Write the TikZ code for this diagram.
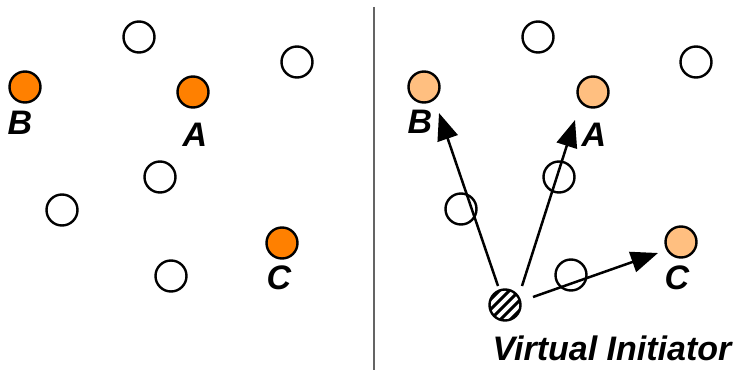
\documentclass[tikz,border=0pt]{standalone}
\usepackage{fontspec}
\setmainfont{Liberation Sans}
\usetikzlibrary{arrows.meta}
\definecolor{deeporange}{RGB}{255,128,0}
\definecolor{paleorange}{RGB}{255,191,128}
\definecolor{divgray}{RGB}{100,100,100}
\tikzset{
  peer/.style={circle, draw=black, line width=2.4pt, minimum size=31pt, inner sep=0pt, fill=white},
  hotpeer/.style={peer, fill=deeporange},
  softpeer/.style={peer, fill=paleorange},
  tag/.style={font=\fontsize{34}{37}\selectfont\bfseries\itshape, inner sep=0pt},
  hatched/.style={peer, path picture={
      \foreach \d in {-15,-10,...,15}
        \draw[line width=3pt] ([shift={(\d,-\d)}]path picture bounding box.center) ++(-22,-22) -- ++(44,44);}},
  ray/.style={line width=2.5pt, -{Triangle[length=27pt, width=21pt]}}
}
\begin{document}
\begin{tikzpicture}[x=1pt, y=1pt]
\useasboundingbox (0,0) rectangle (737,370);
% divider
\coordinate (dtop) at (373.5,363);
\coordinate (dbot) at (373.5,0);
\draw[divgray, line width=2pt] (dtop) -- (dbot);
% left panel
\node[peer] (lw1) at (139,333) {};
\node[peer] (lw2) at (297,308) {};
\node[hotpeer] (lB) at (25,283) {};
\node[tag] (lBt) at (20,247) {B};
\node[hotpeer] (lA) at (193,278) {};
\node[tag] (lAt) at (195,235) {A};
\node[peer] (lw3) at (160,193) {};
\node[peer] (lw4) at (62,160) {};
\node[hotpeer] (lC) at (282,127) {};
\node[tag] (lCt) at (279,92) {C};
\node[peer] (lw5) at (171,94) {};
% right panel
\node[peer] (rw1) at (538,333) {};
\node[peer] (rw2) at (696,308) {};
\node[softpeer] (rB) at (424,283) {};
\node[tag] (rBt) at (420,248) {B};
\node[softpeer] (rA) at (593,278) {};
\node[tag] (rAt) at (594,235) {A};
\node[peer] (rw3) at (559,193) {};
\node[peer] (rw4) at (461,161) {};
\node[softpeer] (rC) at (681,128) {};
\node[tag] (rCt) at (677,92) {C};
\node[peer] (rw5) at (571,95) {};
\node[hatched] (vi) at (505,65) {};
\node[tag] (vit) at (612,22) {Virtual Initiator};
% arrows
\coordinate (sB) at (498,84);
\coordinate (tB) at (439,257);
\coordinate (sA) at (522,84);
\coordinate (tA) at (575,250);
\coordinate (sC) at (533,73);
\coordinate (tC) at (658,117);
\draw[ray] (sB) -- (tB);
\draw[ray] (sA) -- (tA);
\draw[ray] (sC) -- (tC);
\end{tikzpicture}
\end{document}
